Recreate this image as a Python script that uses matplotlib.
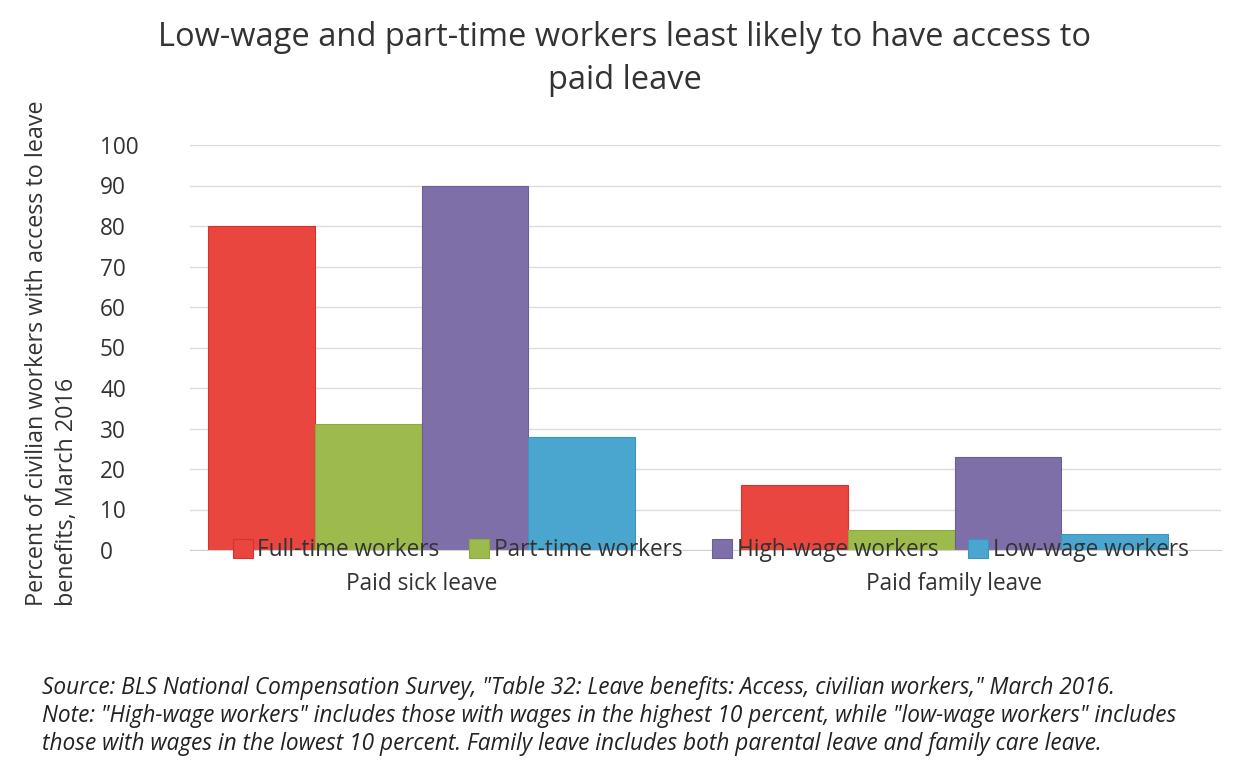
#!/usr/bin/env python3
"""Low-wage and part-time workers paid leave access chart."""
import numpy as np
import matplotlib
matplotlib.use("Agg")
import matplotlib.pyplot as plt

# Data
categories = ["Paid sick leave", "Paid family leave"]
series_names = ["Full-time workers", "Part-time workers", "High-wage workers", "Low-wage workers"]
full_time = [80, 16]
part_time = [31, 5]
high_wage = [90, 23]
low_wage = [28, 4]
y_ticks = [0, 10, 20, 30, 40, 50, 60, 70, 80, 90, 100]

colors = ["#e8463f", "#9cbb4c", "#7f6fa8", "#4aa6cf"]
edge_colors = ["#d9322c", "#8aab3c", "#6e5e98", "#3a95bf"]

plt.rcParams["font.family"] = ["Open Sans", "DejaVu Sans"]
text_color = "#333333"
body_size = 16.3

W, H = 1236, 768
fig = plt.figure(figsize=(W / 100, H / 100), dpi=100)
fig.patch.set_facecolor("white")

left_px, right_px, top_px, bottom_px = 190, 1221, 145, 550
ax = fig.add_axes([left_px / W, 1 - bottom_px / H,
                   (right_px - left_px) / W, (bottom_px - top_px) / H])

x = np.arange(len(categories))
width = 0.2
all_series = [full_time, part_time, high_wage, low_wage]
for i, (vals, name) in enumerate(zip(all_series, series_names)):
    ax.bar(x + (i - 1.5) * width, vals, width, color=colors[i],
           edgecolor=edge_colors[i], linewidth=0.8, label=name, zorder=2)

ax.set_ylim(0, 100)
ax.set_xlim(-0.5 + 35 / 533, 1.5)
ax.set_yticks(y_ticks)
ax.set_yticklabels([str(t) for t in y_ticks], fontsize=body_size, color=text_color)
ax.set_xticks(x)
ax.set_xticklabels(categories, fontsize=body_size, color=text_color)
ax.tick_params(axis="both", length=0)
ax.tick_params(axis="y", pad=(left_px - 100) * 0.72)
ax.tick_params(axis="x", pad=16)
for lab in ax.get_yticklabels():
    lab.set_horizontalalignment("left")

ax.yaxis.grid(True, color="#dcdcdc", linewidth=1.0, zorder=0)
ax.set_axisbelow(True)
for side in ["top", "right", "left"]:
    ax.spines[side].set_visible(False)
ax.spines["bottom"].set_color("#d0d0d0")

# y label, lines aligned at the bottom like the original
fig.text(52 / W, 1 - 606 / H,
         "Percent of civilian workers with access to leave\nbenefits, March 2016",
         rotation=90, ha="center", va="bottom", multialignment="left",
         fontsize=16.8, color=text_color, linespacing=1.3)

leg = ax.legend(loc="center", bbox_to_anchor=(0.505, 0.0), ncol=4, frameon=False,
                fontsize=body_size, handlelength=0.9, handleheight=0.9, handletextpad=0.2,
                columnspacing=1.3, labelcolor=text_color)

fig.text(625 / W, 1 - 59 / H,
         "Low-wage and part-time workers least likely to have access to\npaid leave",
         ha="center", va="center", fontsize=23.5, color=text_color, linespacing=1.4)

footer = ("Source: BLS National Compensation Survey, \"Table 32: Leave benefits: Access, civilian workers,\" March 2016.\n"
          "Note: \"High-wage workers\" includes those with wages in the highest 10 percent, while \"low-wage workers\" includes\n"
          "those with wages in the lowest 10 percent. Family leave includes both parental leave and family care leave.")
fig.text(42 / W, 1 - 716 / H, footer, ha="left", va="center", fontsize=16.3,
         style="italic", color="#222222", linespacing=1.2)

plt.savefig("out.png", dpi=100)
plt.close()
